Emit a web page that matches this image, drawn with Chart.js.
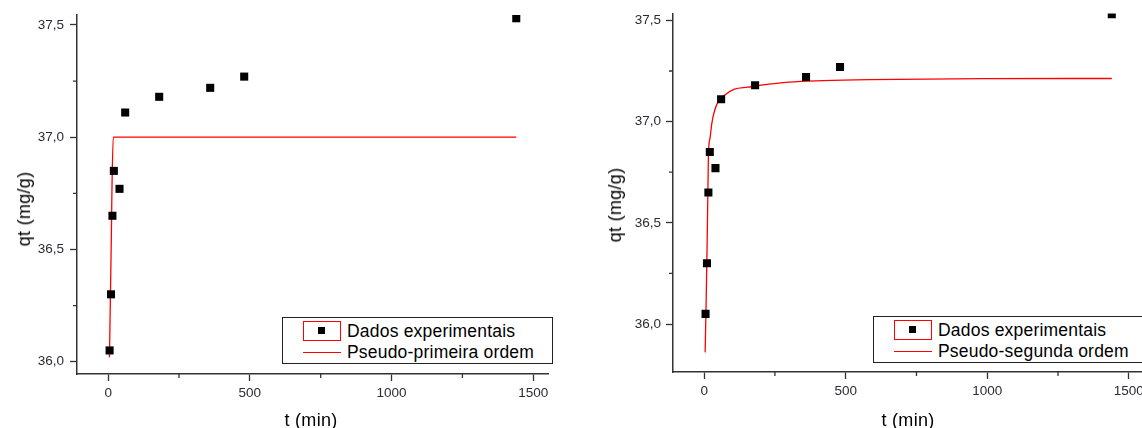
<!DOCTYPE html>
<html>
<head>
<meta charset="utf-8">
<script src="https://cdn.jsdelivr.net/npm/chart.js@4.4.1/dist/chart.umd.min.js"></script>
<style>
  html, body { margin:0; padding:0; background:#fff; overflow:hidden; width:1142px; height:428px; }
  body { position:relative; font-family:"Liberation Sans", Arial, sans-serif; color:#000; }
  canvas { position:absolute; top:0; }
  #chartPFO { left:0; }
  #chartPSO { left:571px; }
  .ytitle { position:absolute; font-size:18px; line-height:18px; white-space:nowrap; letter-spacing:0.3px; transform:translate(-50%,-50%) rotate(-90deg); }
  .xtitle { position:absolute; font-size:18px; line-height:18px; white-space:nowrap; letter-spacing:0.3px; transform:translateX(-50%); }
  .legend { position:absolute; width:271px; height:47px; border:1px solid #222; box-sizing:border-box; background:#fff; font-size:17.5px; letter-spacing:0.2px; }
  .legend .row { position:absolute; left:64px; white-space:nowrap; line-height:20px; }
  .legend .frame { position:absolute; left:20px; top:3px; width:38px; height:20px; border:1px solid #f00; box-sizing:border-box; }
  .legend .frame i { position:absolute; left:14px; top:5px; width:7px; height:7px; background:#000; }
  .legend .dash { position:absolute; left:20px; top:34px; width:38px; height:1px; background:#f00; }
</style>
</head>
<body>
<canvas id="chartPFO" width="571" height="428"></canvas>
<canvas id="chartPSO" width="640" height="428"></canvas>

<div class="ytitle" style="left:23.5px;top:209px">qt (mg/g)</div>
<div class="xtitle" style="left:311px;top:411px">t (min)</div>
<div class="legend" style="left:282px;top:317px">
  <span class="frame"><i></i></span><div class="row" style="top:3px">Dados experimentais</div>
  <span class="dash"></span><div class="row" style="top:24px">Pseudo-primeira ordem</div>
</div>

<div class="ytitle" style="left:615px;top:205px">qt (mg/g)</div>
<div class="xtitle" style="left:908px;top:411px">t (min)</div>
<div class="legend" style="left:873px;top:316px">
  <span class="frame"><i></i></span><div class="row" style="top:3px">Dados experimentais</div>
  <span class="dash"></span><div class="row" style="top:24px">Pseudo-segunda ordem</div>
</div>

<script>
// ===== data =====
const expTime = [5, 10, 15, 20, 40, 60, 180, 360, 480, 1440];
const expQt   = [36.05, 36.30, 36.65, 36.85, 36.77, 37.11, 37.18, 37.22, 37.27, 37.53];

// pseudo-primeira ordem (left)
const pfoTime = [4.5, 11, 13.5, 18, 1440];
const pfoQt   = [36.02, 36.54, 36.78, 37.00, 37.00];

// pseudo-segunda ordem (right)
const psoTime = [3.5, 7, 10.6, 12.7, 15.2, 21, 27, 36, 50, 72, 107, 154, 201, 300, 419, 584, 985, 1440];
const psoQt   = [35.86, 36.10, 36.40, 36.60, 36.84, 36.92, 36.99, 37.05, 37.10, 37.13, 37.16, 37.17, 37.18, 37.195, 37.202, 37.207, 37.212, 37.213];

const xTickVals  = [0, 500, 1000, 1500];
const xMinorVals = [250, 750, 1250];
const yTickVals  = [36.0, 36.5, 37.0, 37.5];
const yMinorVals = [35.75, 36.25, 36.75, 37.25];

const AXIS = '#333';
Chart.defaults.font.family = '"Liberation Sans", Arial, sans-serif';

// short minor ticks, like Origin draws them
const minorTicks = {
  id: 'minorTicks',
  afterDraw(chart, args, opts) {
    const { ctx, chartArea: a, scales: { x, y } } = chart;
    ctx.save();
    ctx.strokeStyle = AXIS; ctx.lineWidth = 1.3;
    ctx.beginPath();
    opts.x.forEach(v => {
      const px = x.getPixelForValue(v);
      if (px < a.left || px > a.right) return;
      ctx.moveTo(px, a.bottom); ctx.lineTo(px, a.bottom + 4);
    });
    opts.y.forEach(v => {
      const py = y.getPixelForValue(v);
      if (py < a.top || py > a.bottom) return;
      ctx.moveTo(a.left, py); ctx.lineTo(a.left - 4, py);
    });
    ctx.stroke();
    ctx.restore();
  }
};

function makeChart(id, fitTime, fitQt, p) {
  return new Chart(document.getElementById(id), {
    type: 'scatter',
    data: {
      datasets: [
        {
          data: expTime.map((t, i) => ({ x: t, y: expQt[i] })),
          pointStyle: 'rect', pointRadius: 5.7, pointHoverRadius: 5.7,
          backgroundColor: '#000', borderWidth: 0, clip: 0, order: 0
        },
        {
          data: fitTime.map((t, i) => ({ x: t, y: fitQt[i] })),
          showLine: true, pointRadius: 0, borderColor: '#ff0000', borderWidth: 1.3,
          cubicInterpolationMode: 'monotone', order: 1
        }
      ]
    },
    options: {
      responsive: false, animation: false,
      layout: { autoPadding: false, padding: { left: 0, top: p.top, right: p.right, bottom: 0 } },
      plugins: { legend: { display: false }, tooltip: { enabled: false }, minorTicks: { x: xMinorVals, y: yMinorVals } },
      scales: {
        x: {
          type: 'linear', min: -110, max: 1552,
          afterBuildTicks: s => { s.ticks = xTickVals.map(v => ({ value: v })); },
          afterFit: s => { s.height = p.xh; },
          border: { display: true, color: AXIS, width: 1.5 },
          grid: { drawOnChartArea: false, drawTicks: true, tickLength: 7, tickColor: AXIS, tickWidth: 1.3 },
          ticks: { color: '#2b2b33', font: { size: 13.5 }, padding: 4, maxRotation: 0, autoSkip: false, callback: v => String(v) }
        },
        y: {
          type: 'linear', min: p.ymin, max: p.ymax,
          afterBuildTicks: s => { s.ticks = yTickVals.map(v => ({ value: v })); },
          afterFit: s => { s.width = p.yw; },
          border: { display: true, color: AXIS, width: 1.5 },
          grid: { drawOnChartArea: false, drawTicks: true, tickLength: 7, tickColor: AXIS, tickWidth: 1.3 },
          ticks: { color: '#2b2b33', font: { size: 13.5 }, padding: p.lpad, callback: v => v.toFixed(1).replace('.', ',') }
        }
      }
    },
    plugins: [minorTicks]
  });
}

window.addEventListener('DOMContentLoaded', () => {
  makeChart('chartPFO', pfoTime, pfoQt, { top: 15, right: 23, xh: 54, yw: 77, ymin: 35.945, ymax: 37.5445, lpad: 6 });
  makeChart('chartPSO', psoTime, psoQt, { top: 13.5, right: 67.5, xh: 56, yw: 102, ymin: 35.763, ymax: 37.534, lpad: 5 });
});
</script>
</body>
</html>
